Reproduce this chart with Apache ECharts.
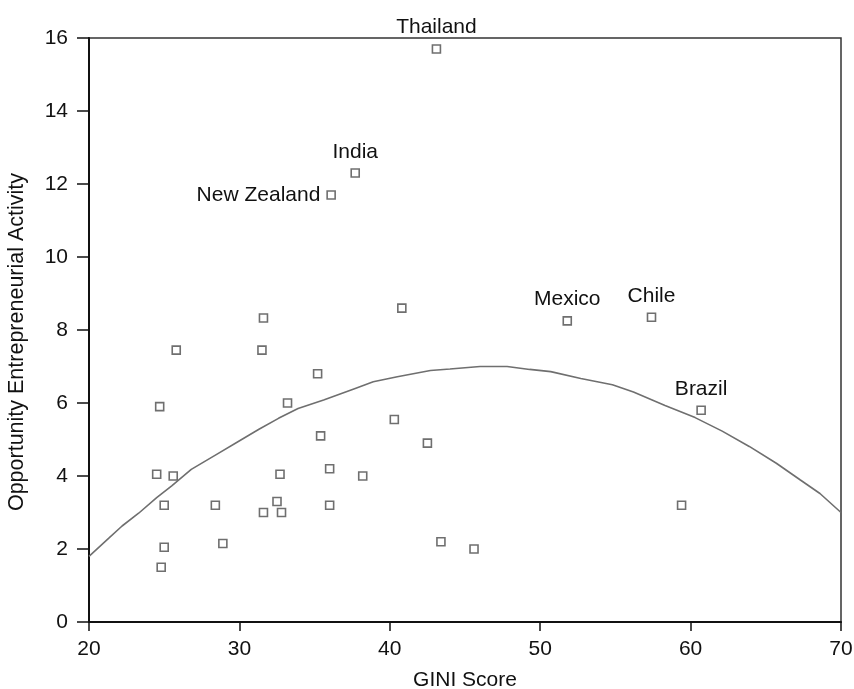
<!DOCTYPE html>
<html>
<head>
<meta charset="utf-8">
<script src="https://cdn.jsdelivr.net/npm/echarts@6/dist/echarts.min.js"></script>
<style>
  html, body { margin: 0; padding: 0; background: #fff; }
  #chart { width: 854px; height: 689px; }
</style>
</head>
<body>
<div id="chart"></div>
<script>
// country points
const gini = [43.1, 37.7, 36.1, 51.8, 57.4, 60.7, 59.4, 40.8, 31.6, 25.8, 31.5,
  35.2, 24.7, 33.2, 40.3, 35.4, 42.5, 24.5, 25.6, 32.7, 36.0, 38.2, 25.0, 28.4,
  32.5, 31.6, 32.8, 36.0, 25.0, 28.9, 24.8, 43.4, 45.6]
const activity = [15.7, 12.3, 11.7, 8.25, 8.35, 5.8, 3.2, 8.6, 8.33, 7.45, 7.45,
  6.8, 5.9, 6.0, 5.55, 5.1, 4.9, 4.05, 4.0, 4.05, 4.2, 4.0, 3.2, 3.2,
  3.3, 3.0, 3.0, 3.2, 2.05, 2.15, 1.5, 2.2, 2.0]
const countries = ['Thailand', 'India', 'New Zealand', 'Mexico', 'Chile', 'Brazil']

// fitted curve
const fitGini = [20, 21.3, 22.2, 23.3, 24.5, 25.5, 26.8, 28.6, 29.9, 31.3, 32.6,
  33.9, 35.6, 37.7, 38.9, 40.5, 42.7, 44.0, 46.0, 47.8, 49.3, 50.7, 52.7, 54.8,
  56.2, 58.3, 60.3, 62.1, 63.9, 65.7, 67.3, 68.6, 70]
const fitActivity = [1.8, 2.29, 2.63, 2.98, 3.41, 3.73, 4.18, 4.62, 4.94, 5.28, 5.58,
  5.85, 6.08, 6.40, 6.58, 6.72, 6.89, 6.93, 7.0, 7.0, 6.92, 6.86, 6.67, 6.50,
  6.30, 5.93, 5.60, 5.23, 4.81, 4.35, 3.89, 3.52, 3.0]

const font = 'Liberation Sans, Arial, sans-serif'
const textColor = '#111'

let points = gini.map((g, i) => {
  let name = countries[i] || ''
  let p = { value: [g, activity[i]], name: name }
  if (name) {
    p.label = {
      show: true,
      position: name === 'New Zealand' ? 'left' : 'top',
      distance: 6,
      formatter: name,
      color: textColor,
      fontSize: 21,
      fontFamily: font
    }
  }
  return p
})

let chart = echarts.init(document.getElementById('chart'))
chart.setOption({
  animation: false,
  grid: {
    left: 89, right: 13, top: 38, bottom: 67,
    outerBoundsMode: 'none', containLabel: false,
    show: true, borderColor: '#333', borderWidth: 1.5
  },
  xAxis: {
    type: 'value', min: 20, max: 70, interval: 10,
    name: 'GINI Score', nameLocation: 'middle', nameGap: 48,
    nameTextStyle: { color: textColor, fontSize: 21, fontFamily: font },
    axisLine: { lineStyle: { color: '#111', width: 2 } },
    axisTick: { length: 9, lineStyle: { color: '#111', width: 1.5 } },
    axisLabel: { color: textColor, fontSize: 21, fontFamily: font, margin: 17 },
    splitLine: { show: false }
  },
  yAxis: {
    type: 'value', min: 0, max: 16, interval: 2,
    name: 'Opportunity Entrepreneurial Activity', nameLocation: 'middle', nameGap: 61,
    nameTextStyle: { color: textColor, fontSize: 21.5, fontFamily: font, padding: [0, 24, 0, 0] },
    axisLine: { lineStyle: { color: '#111', width: 2 } },
    axisTick: { length: 12, lineStyle: { color: '#111', width: 1.5 } },
    axisLabel: { color: textColor, fontSize: 21, fontFamily: font, margin: 21 },
    splitLine: { show: false }
  },
  series: [
    {
      type: 'line',
      data: fitGini.map((g, i) => [g, fitActivity[i]]),
      showSymbol: false,
      lineStyle: { color: '#6f6f6f', width: 1.6 },
      z: 2
    },
    {
      type: 'scatter',
      data: points,
      symbol: 'rect',
      symbolSize: 8,
      itemStyle: { color: '#fff', borderColor: '#6f6f6f', borderWidth: 1.6, opacity: 1 },
      z: 3
    }
  ]
})
</script>
</body>
</html>
